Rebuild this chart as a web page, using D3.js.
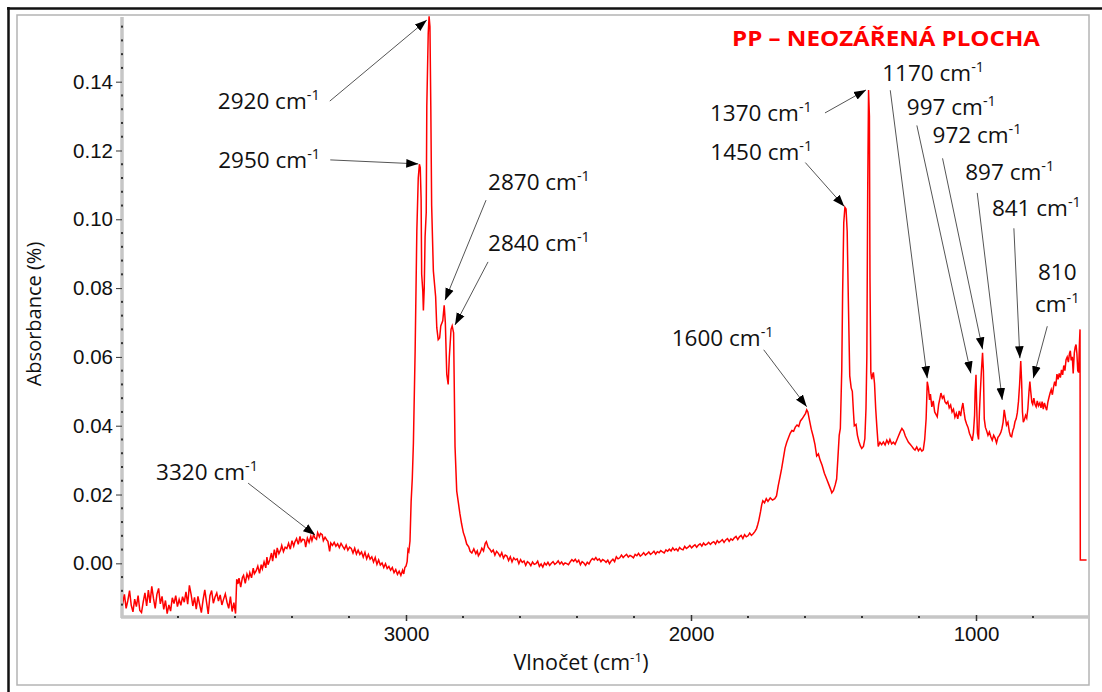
<!DOCTYPE html>
<html>
<head>
<meta charset="utf-8">
<script src="https://cdn.jsdelivr.net/npm/d3@7"></script>
<style>
  body { margin: 0; background: #fff; }
  svg { display: block; }
</style>
</head>
<body>
<div id="chart"></div>
<script>
// spectrum as [wavenumber cm-1, absorbance]
var specLow = [
  [4000,-0.0138],[3994,-0.0116],[3988,-0.0090],[3982,-0.0131],[3976,-0.0108],[3970,-0.0079],[3964,-0.0122],[3958,-0.0141],
  [3952,-0.0104],[3946,-0.0126],[3940,-0.0094],[3934,-0.0137],[3928,-0.0143],[3922,-0.0112],[3916,-0.0086],[3910,-0.0124],
  [3904,-0.0078],[3898,-0.0115],[3892,-0.0067],[3886,-0.0102],[3880,-0.0131],[3874,-0.0090],[3868,-0.0073],[3862,-0.0118],
  [3856,-0.0096],[3850,-0.0134],[3844,-0.0108],[3838,-0.0146],[3832,-0.0121],[3826,-0.0139],[3820,-0.0100],[3814,-0.0117],
  [3808,-0.0094],[3802,-0.0126],[3796,-0.0105],[3790,-0.0122],[3784,-0.0097],[3778,-0.0113],[3772,-0.0083],[3766,-0.0119],
  [3760,-0.0064],[3754,-0.0090],[3748,-0.0124],[3742,-0.0099],[3736,-0.0133],[3730,-0.0096],[3724,-0.0120],[3718,-0.0143],
  [3712,-0.0106],[3706,-0.0077],[3700,-0.0112],[3694,-0.0147],[3688,-0.0094],[3682,-0.0079],[3676,-0.0116],[3670,-0.0098],
  [3664,-0.0086],[3658,-0.0110],[3652,-0.0092],[3646,-0.0121],[3640,-0.0104],[3634,-0.0089],[3628,-0.0113],[3622,-0.0131],
  [3616,-0.0097],[3610,-0.0140],[3604,-0.0114],[3598,-0.0146],[3594,-0.0046],[3590,-0.0060],[3586,-0.0043],[3580,-0.0069],
  [3574,-0.0041],[3570,-0.0035],[3564,-0.0058],[3558,-0.0031],[3552,-0.0044],[3548,-0.0027],[3542,-0.0042],[3536,-0.0014],
  [3532,-0.0030],[3526,-0.0022],[3520,-0.0008],[3514,-0.0029],[3508,-0.0004],[3504,-0.0016],[3498,0.0004],[3492,-0.0013],
  [3488,0.0018],[3484,-0.0004],[3478,0.0010],[3472,0.0030],[3468,0.0006],[3462,0.0040],[3456,0.0015],[3452,0.0045],
  [3446,0.0028],[3440,0.0039],[3436,0.0052],[3430,0.0034],[3424,0.0047],[3418,0.0043],[3412,0.0058],[3406,0.0041],
  [3400,0.0066],[3394,0.0050],[3390,0.0062],[3384,0.0072],[3378,0.0055],[3372,0.0078],[3368,0.0063],[3362,0.0070],
  [3356,0.0068],[3352,0.0047],[3346,0.0073],[3340,0.0061],[3334,0.0079],[3330,0.0066],[3324,0.0084],[3320,0.0074],
  [3314,0.0070],[3310,0.0089],[3304,0.0077],[3300,0.0087],[3294,0.0083],[3290,0.0066],[3284,0.0076],[3278,0.0068],
  [3274,0.0064],[3268,0.0035],[3264,0.0059],[3258,0.0052],[3252,0.0061],[3246,0.0050],[3240,0.0057],[3234,0.0046],
  [3228,0.0058],[3222,0.0049],[3216,0.0041],[3210,0.0053],[3204,0.0038],[3198,0.0047],[3192,0.0043],[3186,0.0030],
  [3180,0.0044],[3174,0.0027],[3168,0.0038],[3162,0.0026],[3156,0.0033],[3150,0.0018],[3144,0.0032],[3138,0.0013],
  [3132,0.0026],[3126,0.0012],[3120,0.0019],[3114,0.0004],[3108,0.0017],[3102,-0.0003],[3096,0.0010],[3090,-0.0005],
  [3084,0.0001],[3078,-0.0012],[3072,-0.0001],[3066,-0.0015],[3060,-0.0009],[3054,-0.0020],[3048,-0.0012],[3042,-0.0027],
  [3036,-0.0018],[3030,-0.0032],[3024,-0.0023],[3018,-0.0035],[3012,-0.0020],[3008,-0.0031],[3004,-0.0012]
];

var specCH = [
  [3000,-0.0008],[2996,0.0005],[2993,0.0040],[2990,0.0035],[2986,0.0065],[2982,0.0180],[2978,0.0245],[2974,0.0350],
  [2968,0.0615],[2962,0.0965],[2957,0.1120],[2953,0.1160],[2950,0.1150],[2947,0.1060],[2945,0.0840],[2941,0.0790],
  [2939,0.0735],[2936,0.0800],[2933,0.0950],[2929,0.1020],[2927,0.1330],[2922,0.1540],[2919,0.1590],[2916,0.1560],
  [2913,0.1330],[2910,0.1040],[2904,0.0850],[2896,0.0775],[2892,0.0685],[2887,0.0650],[2882,0.0655],[2878,0.0690],
  [2871,0.0705],[2866,0.0750],[2862,0.0700],[2857,0.0550],[2852,0.0520],[2848,0.0600],[2842,0.0680],[2838,0.0690],
  [2833,0.0670],[2828,0.0340],[2822,0.0210],[2816,0.0175],[2811,0.0145],[2805,0.0115],[2799,0.0090],[2793,0.0075],
  [2787,0.0056],[2780,0.0048],[2775,0.0035],[2769,0.0030],[2762,0.0042],[2755,0.0028],[2750,0.0036],[2746,0.0022]
];

var specMid = [
  [2740,0.0030],[2734,0.0044],[2728,0.0036],[2722,0.0058],[2718,0.0063],[2712,0.0047],[2706,0.0041],[2700,0.0033],
  [2694,0.0039],[2688,0.0024],[2682,0.0035],[2676,0.0029],[2670,0.0020],[2664,0.0031],[2658,0.0015],[2652,0.0024],
  [2646,0.0021],[2640,0.0008],[2634,0.0019],[2628,0.0004],[2622,0.0016],[2616,0.0010],[2610,0.0013],[2604,-0.0001],
  [2598,0.0011],[2592,0.0003],[2586,0.0007],[2580,-0.0006],[2574,0.0005],[2568,0.0001],[2562,-0.0007],[2556,0.0004],
  [2550,-0.0003],[2544,-0.0001],[2538,0.0006],[2532,-0.0009],[2526,-0.0002],[2520,-0.0011],[2514,0.0001],[2508,-0.0005],
  [2502,0.0003],[2496,-0.0006],[2490,0.0000],[2484,0.0005],[2478,-0.0003],[2472,0.0001],[2466,0.0007],[2460,-0.0002],
  [2454,0.0004],[2448,-0.0004],[2442,0.0001],[2436,-0.0001],[2430,-0.0004],[2424,0.0004],[2418,0.0011],[2412,0.0006],
  [2406,0.0012],[2400,0.0003],[2394,0.0009],[2388,-0.0004],[2382,0.0005],[2376,0.0001],[2370,-0.0006],[2364,0.0003],
  [2358,-0.0002],[2352,0.0008],[2346,0.0014],[2340,0.0010],[2334,0.0017],[2328,0.0009],[2322,0.0013],[2316,0.0005],
  [2310,0.0011],[2304,0.0008],[2298,0.0003],[2292,0.0009],[2286,-0.0001],[2280,0.0007],[2274,0.0012],[2268,0.0005],
  [2262,0.0019],[2256,0.0013],[2250,0.0016],[2244,0.0024],[2238,0.0017],[2232,0.0022],[2226,0.0026],[2220,0.0018],
  [2214,0.0023],[2208,0.0020],[2202,0.0016],[2196,0.0026],[2190,0.0022],[2184,0.0029],[2178,0.0021],[2172,0.0025],
  [2166,0.0031],[2160,0.0024],[2154,0.0028],[2148,0.0033],[2142,0.0026],[2136,0.0030],[2130,0.0035],[2124,0.0027],
  [2118,0.0034],[2112,0.0031],[2106,0.0037],[2100,0.0033],[2094,0.0030],[2088,0.0039],[2082,0.0035],[2076,0.0041],
  [2070,0.0036],[2064,0.0045],[2058,0.0038],[2052,0.0042],[2046,0.0036],[2040,0.0046],[2034,0.0041],[2028,0.0039],
  [2022,0.0049],[2016,0.0043],[2010,0.0047],[2004,0.0052],[1998,0.0045],[1992,0.0050],[1986,0.0054],[1980,0.0047],
  [1974,0.0053],[1968,0.0057],[1962,0.0050],[1956,0.0059],[1950,0.0053],[1944,0.0056],[1938,0.0061],[1932,0.0055],
  [1926,0.0060],[1920,0.0063],[1914,0.0056],[1908,0.0066],[1902,0.0060],[1896,0.0064],[1890,0.0069],[1884,0.0061],
  [1878,0.0068],[1872,0.0072],[1866,0.0064],[1860,0.0071],[1854,0.0067],[1848,0.0074],[1842,0.0078],[1836,0.0069],
  [1830,0.0077],[1824,0.0081],[1818,0.0072],[1812,0.0083],[1806,0.0077],[1800,0.0080],[1794,0.0088],[1788,0.0081],
  [1782,0.0086],[1776,0.0092],[1770,0.0101],[1766,0.0112],[1762,0.0125],[1756,0.0150],[1752,0.0170],[1748,0.0182],
  [1742,0.0176],[1736,0.0188],[1730,0.0180],[1722,0.0190],[1714,0.0184],[1706,0.0188],[1700,0.0196],[1694,0.0225],
  [1688,0.0250],[1682,0.0275],[1676,0.0305],[1670,0.0335],[1664,0.0352],[1658,0.0365],[1652,0.0378],[1646,0.0386],
  [1640,0.0384],[1634,0.0396],[1628,0.0402],[1622,0.0398],[1616,0.0414],[1610,0.0420],[1604,0.0428],[1598,0.0436],
  [1594,0.0446]
];

var specFinger = [
  [1590,0.0440],[1584,0.0415],[1578,0.0390],[1571,0.0368],[1565,0.0345],[1559,0.0312],[1553,0.0318],[1547,0.0300],
  [1540,0.0285],[1532,0.0262],[1524,0.0245],[1516,0.0228],[1510,0.0215],[1506,0.0205],[1500,0.0212],[1494,0.0228],
  [1489,0.0245],[1485,0.0300],[1480,0.0372],[1476,0.0392],[1471,0.0562],[1468,0.0785],[1464,0.0990],[1460,0.1035],
  [1456,0.1030],[1452,0.0965],[1448,0.0770],[1443,0.0545],[1438,0.0510],[1434,0.0500],[1430,0.0440],[1427,0.0400],
  [1421,0.0404],[1416,0.0372],[1411,0.0355],[1406,0.0342],[1401,0.0334],[1395,0.0340],[1390,0.0362],[1386,0.0450],
  [1383,0.0600],[1380,0.1080],[1377,0.1376],[1374,0.1300],[1372,0.0830],[1369,0.0555],[1366,0.0535],[1363,0.0548],
  [1360,0.0555],[1356,0.0522],[1352,0.0450],[1348,0.0398],[1343,0.0340],[1337,0.0352],[1331,0.0345],[1325,0.0353],
  [1319,0.0344],[1313,0.0358],[1307,0.0348],[1302,0.0360],[1296,0.0347],[1290,0.0352],[1284,0.0346],[1278,0.0358],
  [1272,0.0370],[1266,0.0382],[1260,0.0392],[1254,0.0385],[1248,0.0370],[1242,0.0360],[1237,0.0352],[1231,0.0346],
  [1225,0.0340],[1219,0.0333],[1214,0.0329],[1208,0.0338],[1202,0.0327],[1196,0.0334],[1190,0.0326],[1185,0.0330],
  [1180,0.0360],[1175,0.0420],[1171,0.0528],[1167,0.0510],[1163,0.0475],[1160,0.0492],[1155,0.0455],[1150,0.0472],
  [1145,0.0440],[1140,0.0432],[1136,0.0426],[1131,0.0462],[1127,0.0478],[1123,0.0495],[1118,0.0480],[1113,0.0486],
  [1109,0.0470],[1104,0.0464],[1099,0.0470],[1094,0.0452],[1089,0.0460],[1084,0.0440],[1079,0.0448],[1074,0.0425],
  [1069,0.0436],[1064,0.0420],[1059,0.0443],[1054,0.0428],[1050,0.0450],[1046,0.0466],[1042,0.0440],[1038,0.0418],
  [1033,0.0405],[1028,0.0395],[1023,0.0378],[1018,0.0368],[1013,0.0356],[1009,0.0380],[1005,0.0430],[1003,0.0500],
  [1000,0.0548],[998,0.0470],[995,0.0378],[991,0.0360],[988,0.0440],[985,0.0495],[981,0.0560],[977,0.0612],
  [974,0.0560],[971,0.0420],[967,0.0395],[963,0.0386],[958,0.0372],[953,0.0382],[948,0.0368],[943,0.0358],
  [938,0.0372],[933,0.0364],[928,0.0350],[923,0.0366],[918,0.0372],[913,0.0380],[909,0.0392],[905,0.0410],
  [901,0.0446],[897,0.0425],[893,0.0402],[888,0.0410],[883,0.0382],[879,0.0370],[875,0.0368],[871,0.0385],
  [867,0.0395],[863,0.0412],[859,0.0420],[855,0.0438],[851,0.0470],[847,0.0520],[843,0.0588],[840,0.0530],
  [837,0.0440],[834,0.0410],[830,0.0418],[826,0.0430],[822,0.0422],[818,0.0450],[814,0.0500],[811,0.0528],
  [808,0.0500],[804,0.0468],[801,0.0462],[797,0.0480],[793,0.0462],[789,0.0455],[785,0.0472],[781,0.0458],
  [776,0.0466],[772,0.0452],[768,0.0470],[764,0.0448],[760,0.0466],[756,0.0455],[752,0.0445],[748,0.0468],
  [744,0.0482],[740,0.0495],[736,0.0505],[732,0.0490],[728,0.0512],[724,0.0528],[720,0.0515],[716,0.0550],
  [712,0.0535],[708,0.0552],[704,0.0540],[700,0.0562],[696,0.0548],[692,0.0575],[688,0.0560],[684,0.0592],
  [680,0.0600],[676,0.0585],[672,0.0610],[669,0.0618],[666,0.0590],[662,0.0600],[659,0.0552],[655,0.0612],
  [652,0.0628],[649,0.0636],[646,0.0610],[643,0.0560],[640,0.0555],[637,0.0640],[635,0.0680],[634,0.0010],
  [612,0.0010]
];

// axis ticks
var yTicks = [0.00, 0.02, 0.04, 0.06, 0.08, 0.10, 0.12, 0.14];
var xTicks = [3000, 2000, 1000];

// peak annotations: label and where the arrow points (wavenumber, absorbance)
var peakLabels = ["3320", "2950", "2920", "2870", "2840", "1600", "1450", "1370", "1170", "997", "972", "897", "841", "810"];
var tipWn  = [3319, 2957, 2927, 2863, 2828, 1594, 1462, 1386, 1171, 1018, 977, 908, 846, 799];
var tipAbs = [0.0082, 0.1161, 0.1579, 0.0765, 0.0693, 0.0455, 0.1037, 0.1376, 0.0538, 0.0552, 0.0622, 0.0475, 0.0596, 0.0538];

// label layout in pixels, relative to the arrow tip: [arrow start dx, dy, text x, text mid y]
var labelLayout = [
  [-67, -52, -159, -63], [-88, -4, -200, -4], [-97, 81, -209, 81], [41, -100, 43, -118],
  [33, -63, 33, -82], [-43, -57, -135, -69], [-39, -44, -134, -55], [-41, 23, -156, 23],
  [-37, -288, -45, -305], [-54, -248, -64, -266], [-40, -191, -50, -214], [-25, -207, -37, -228],
  [-6, -130, -28, -150], [14, -52, 24, -106]
];

var W = 1102, H = 692;
var plot = { left: 121, right: 1090, top: 17, bottom: 617 };
var labelFont = "'Open Sans', sans-serif";

var svg = d3.select("#chart").append("svg")
    .attr("width", W)
    .attr("height", H);

// frame
svg.append("rect")
    .attr("x", 17).attr("y", 15)
    .attr("width", 1072).attr("height", 670)
    .attr("fill", "#fff")
    .attr("stroke", "#b4b4b4")
    .attr("stroke-width", 1.5);
svg.append("line")
    .attr("x1", 7).attr("x2", W).attr("y1", 8.5).attr("y2", 8.5)
    .attr("stroke", "#111").attr("stroke-width", 2.5);
svg.append("line")
    .attr("x1", 8.5).attr("x2", 8.5).attr("y1", 7).attr("y2", H)
    .attr("stroke", "#111").attr("stroke-width", 2.5);

// scales
var x = d3.scaleLinear().domain([4000, 600]).range([plot.left, plot.right]);
var y = d3.scaleLinear().domain([-0.0156, 0.1588]).range([plot.bottom, plot.top]);

// axis lines (grey bands)
svg.append("line")
    .attr("x1", plot.left + 1).attr("x2", plot.left + 1)
    .attr("y1", plot.top).attr("y2", plot.bottom + 1)
    .attr("stroke", "#c6c6c6").attr("stroke-width", 3.5);
svg.append("line")
    .attr("x1", plot.left).attr("x2", plot.right - 1)
    .attr("y1", plot.bottom).attr("y2", plot.bottom)
    .attr("stroke", "#c6c6c6").attr("stroke-width", 3.5);

// minor ticks, little dots on the axis
var yMinor = d3.range(-0.012, 0.157, 0.004).filter(function (d) {
    return Math.abs(d * 50 - Math.round(d * 50)) > 1e-6;
});
svg.selectAll(".ymin")
    .data(yMinor)
    .enter().append("rect")
    .attr("class", "ymin")
    .attr("x", plot.left)
    .attr("y", function (d) { return y(d) - 1; })
    .attr("width", 2).attr("height", 2)
    .attr("fill", "#333");

var xMinor = d3.range(800, 4000, 200).filter(function (d) { return d % 1000 != 0; });
svg.selectAll(".xmin")
    .data(xMinor)
    .enter().append("rect")
    .attr("class", "xmin")
    .attr("x", function (d) { return x(d) - 1; })
    .attr("y", plot.bottom - 1)
    .attr("width", 2).attr("height", 2)
    .attr("fill", "#333");

// y axis
var yAxis = svg.append("g")
    .attr("transform", "translate(" + (plot.left + 1) + ",0)")
    .call(d3.axisLeft(y).tickValues(yTicks).tickFormat(d3.format(".2f")).tickSize(6).tickPadding(3));
yAxis.select(".domain").remove();
yAxis.selectAll("line").attr("stroke", "#333");
yAxis.selectAll("text")
    .attr("fill", "#111")
    .style("font-family", "'Liberation Sans', Arial, sans-serif")
    .style("font-size", "20.5px");

// x axis
var xAxis = svg.append("g")
    .attr("transform", "translate(0," + (plot.bottom - 2) + ")")
    .call(d3.axisBottom(x).tickValues(xTicks).tickFormat(d3.format("d")).tickSize(6).tickPadding(5));
xAxis.select(".domain").remove();
xAxis.selectAll("line").attr("stroke", "#333").attr("stroke-width", 1.5);
xAxis.selectAll("text")
    .attr("fill", "#111")
    .style("font-family", "'Liberation Sans', Arial, sans-serif")
    .style("font-size", "20.5px");

// spectrum
svg.append("clipPath").attr("id", "clip")
    .append("rect")
    .attr("x", plot.left + 2).attr("y", plot.top - 2)
    .attr("width", plot.right - plot.left - 2).attr("height", plot.bottom - plot.top);

var spectrum = specLow.concat(specCH, specMid, specFinger);
var line = d3.line()
    .x(function (d) { return x(d[0]); })
    .y(function (d) { return y(d[1]); });

svg.append("path")
    .datum(spectrum)
    .attr("clip-path", "url(#clip)")
    .attr("fill", "none")
    .attr("stroke", "#ff0000")
    .attr("stroke-width", 1.5)
    .attr("stroke-linejoin", "miter")
    .attr("d", line);

// axis titles
svg.append("text")
    .attr("transform", "translate(41,314) rotate(-90)")
    .attr("text-anchor", "middle")
    .style("font-family", labelFont)
    .style("font-size", "20px")
    .attr("fill", "#111")
    .text("Absorbance (%)");

var xt = svg.append("text")
    .attr("x", 581).attr("y", 670)
    .attr("text-anchor", "middle")
    .style("font-family", labelFont)
    .style("font-size", "21.5px")
    .attr("fill", "#111");
xt.append("tspan").text("Vlnočet (cm");
xt.append("tspan").attr("dy", -8).style("font-size", "13.5px").text("-1");
xt.append("tspan").attr("dy", 8).text(")");

// title
svg.append("text")
    .attr("x", 886).attr("y", 46)
    .attr("text-anchor", "middle")
    .attr("textLength", 308)
    .attr("lengthAdjust", "spacingAndGlyphs")
    .style("font-family", labelFont)
    .style("font-weight", "bold")
    .style("font-size", "22px")
    .attr("fill", "#ff0000")
    .text("PP – NEOZÁŘENÁ PLOCHA");

// arrows
var defs = svg.append("defs");
defs.append("marker")
    .attr("id", "head")
    .attr("viewBox", "0 0 10 10")
    .attr("refX", 10).attr("refY", 5)
    .attr("markerWidth", 12).attr("markerHeight", 12)
    .attr("markerUnits", "userSpaceOnUse")
    .attr("orient", "auto")
    .append("path")
    .attr("d", "M0,1.4 L10,5 L0,8.6 Z")
    .attr("fill", "#000");

var notes = peakLabels.map(function (d, i) {
    return { label: d, tx: x(tipWn[i]), ty: y(tipAbs[i]), lay: labelLayout[i] };
});

svg.selectAll(".arrow")
    .data(notes)
    .enter().append("line")
    .attr("class", "arrow")
    .attr("x1", function (d) { return d.tx + d.lay[0]; })
    .attr("y1", function (d) { return d.ty + d.lay[1]; })
    .attr("x2", function (d) { return d.tx; })
    .attr("y2", function (d) { return d.ty; })
    .attr("stroke", "#555")
    .attr("stroke-width", 1)
    .attr("marker-end", "url(#head)");

notes.forEach(function (d) {
    var t = svg.append("text")
        .style("font-family", labelFont)
        .style("font-size", "22.5px")
        .attr("fill", "#111");
    if (d.label == "810") {
        // this one is wrapped over two lines
        t.attr("text-anchor", "middle");
        t.append("tspan")
            .attr("x", d.tx + d.lay[2]).attr("y", d.ty + d.lay[3] + 8)
            .text(d.label);
        t.append("tspan")
            .attr("x", d.tx + d.lay[2]).attr("y", d.ty + d.lay[3] + 40)
            .text("cm");
        t.append("tspan").attr("dy", -9).style("font-size", "14.5px").text("-1");
    } else {
        t.attr("x", d.tx + d.lay[2]).attr("y", d.ty + d.lay[3] + 8);
        t.append("tspan").text(d.label + " cm");
        t.append("tspan").attr("dy", -9).style("font-size", "14.5px").text("-1");
    }
});
</script>
</body>
</html>
